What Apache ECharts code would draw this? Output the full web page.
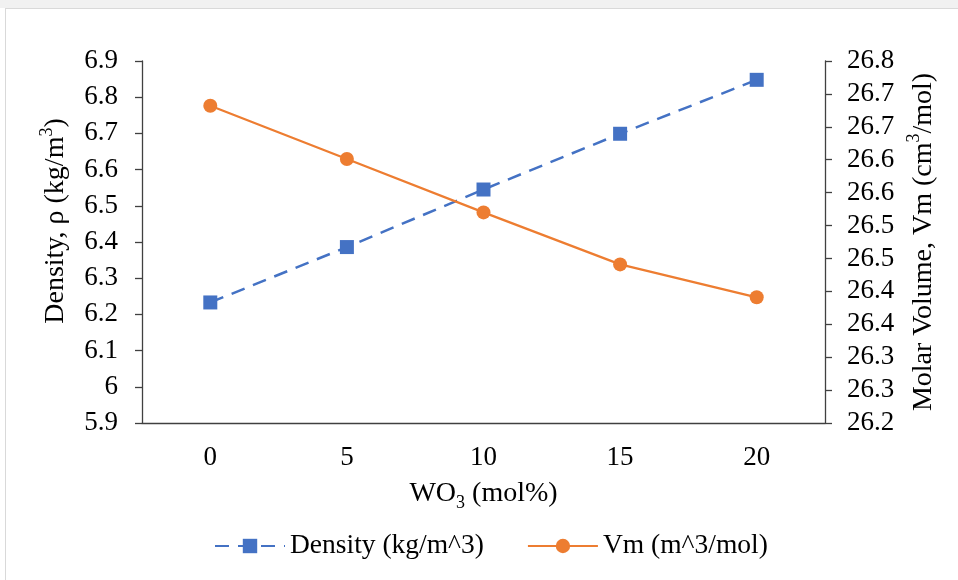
<!DOCTYPE html>
<html>
<head>
<meta charset="utf-8">
<script src="https://cdn.jsdelivr.net/npm/echarts@6/dist/echarts.min.js"></script>
<style>
  html, body { margin: 0; padding: 0; background: #fff; }
  #strip { position: absolute; left: 0; top: 0; width: 958px; height: 8px; background: #f1f1f1; }
  #frame { position: absolute; left: 5px; top: 8px; width: 960px; height: 580px;
           border-left: 1px solid #d9d9d9; border-top: 1px solid #d9d9d9; }
  #chart { position: absolute; left: 0; top: 0; width: 958px; height: 580px; }
</style>
</head>
<body>
<div id="strip"></div>
<div id="frame"></div>
<div id="chart"></div>
<script>
// WO3 content (mol%)
const categories = ['0', '5', '10', '15', '20'];
// Density (kg/m^3)
const density = [6.233, 6.386, 6.545, 6.699, 6.848];
// Molar volume (cm^3/mol)
const molarVolume = [26.682, 26.601, 26.520, 26.441, 26.391];

const seriesNames = ['Density (kg/m^3)', 'Vm (m^3/mol)'];

const FONT = 'Liberation Serif';
const AXIS_COLOR = '#404040';
const TICK_SIZE = 27;
const TITLE_SIZE = 28;
const SUB_SIZE = 18;

const chart = echarts.init(document.getElementById('chart'), null, { renderer: 'canvas' });

const tickText = { fontFamily: FONT, fontSize: TICK_SIZE, color: '#000' };

// rich styles for titles with super/subscripts
const supRich = {
  a: { fontFamily: FONT, fontSize: TITLE_SIZE, color: '#000', lineHeight: 32, verticalAlign: 'bottom' },
  s: { fontFamily: FONT, fontSize: SUB_SIZE, color: '#000', lineHeight: 32, verticalAlign: 'top', padding: [0, 0, 10, 0] }
};
const subRich = {
  a: { fontFamily: FONT, fontSize: TITLE_SIZE, color: '#000', lineHeight: 32, verticalAlign: 'top' },
  s: { fontFamily: FONT, fontSize: SUB_SIZE, color: '#000', lineHeight: 32, verticalAlign: 'bottom', padding: [12, 0, 0, 0] }
};

chart.setOption({
  animation: false,
  grid: { left: 142, right: 133, top: 61, bottom: 157 },
  legend: {
    data: seriesNames,
    left: 209,
    top: 527,
    itemWidth: 70,
    itemHeight: 18,
    itemGap: 43,
    textStyle: { fontFamily: FONT, fontSize: 27.5, color: '#000' }
  },
  xAxis: {
    type: 'category',
    data: categories,
    boundaryGap: true,
    axisLine: { lineStyle: { color: AXIS_COLOR, width: 1.3 } },
    axisTick: { show: false },
    axisLabel: Object.assign({ margin: 21 }, tickText),
    name: '{a|WO}{s|3}{a| (mol%)}',
    nameLocation: 'middle',
    nameGap: 57,
    nameTextStyle: { rich: subRich }
  },
  yAxis: [
    {
      type: 'value',
      min: 5.9,
      max: 6.9,
      interval: 0.1,
      splitLine: { show: false },
      axisLine: { show: true, lineStyle: { color: AXIS_COLOR, width: 1.3 } },
      axisTick: { show: true, length: 7, lineStyle: { color: AXIS_COLOR, width: 1.3 } },
      axisLabel: Object.assign({ margin: 24 }, tickText),
      name: '{a|Density, ρ (kg/m}{s|3}{a|)}',
      nameLocation: 'middle',
      nameGap: 72,
      nameTextStyle: { padding: [0, 0, 0, 42], rich: supRich }
    },
    {
      type: 'value',
      position: 'right',
      min: 26.2,
      max: 26.75,
      interval: 0.05,
      splitLine: { show: false },
      axisLine: { show: true, lineStyle: { color: AXIS_COLOR, width: 1.3 } },
      axisTick: { show: true, length: 7, lineStyle: { color: AXIS_COLOR, width: 1.3 } },
      axisLabel: Object.assign({
        margin: 22,
        // one-decimal labels, rounding halves upward
        formatter: v => (Math.round(v * 10 + 1e-6) / 10).toFixed(1)
      }, tickText),
      name: '{a|Molar Volume, Vm (cm}{s|3}{a|/mol)}',
      nameLocation: 'middle',
      nameGap: 76,
      nameTextStyle: { rich: supRich }
    }
  ],
  series: [
    {
      name: seriesNames[0],
      type: 'line',
      yAxisIndex: 0,
      data: density,
      symbol: 'rect',
      symbolSize: 14,
      itemStyle: { color: '#4472C4' },
      lineStyle: { color: '#4472C4', width: 2.5, type: [14, 9] }
    },
    {
      name: seriesNames[1],
      type: 'line',
      yAxisIndex: 1,
      data: molarVolume,
      symbol: 'circle',
      symbolSize: 14,
      itemStyle: { color: '#ED7D31' },
      lineStyle: { color: '#ED7D31', width: 2.25 }
    }
  ]
});
</script>
</body>
</html>
